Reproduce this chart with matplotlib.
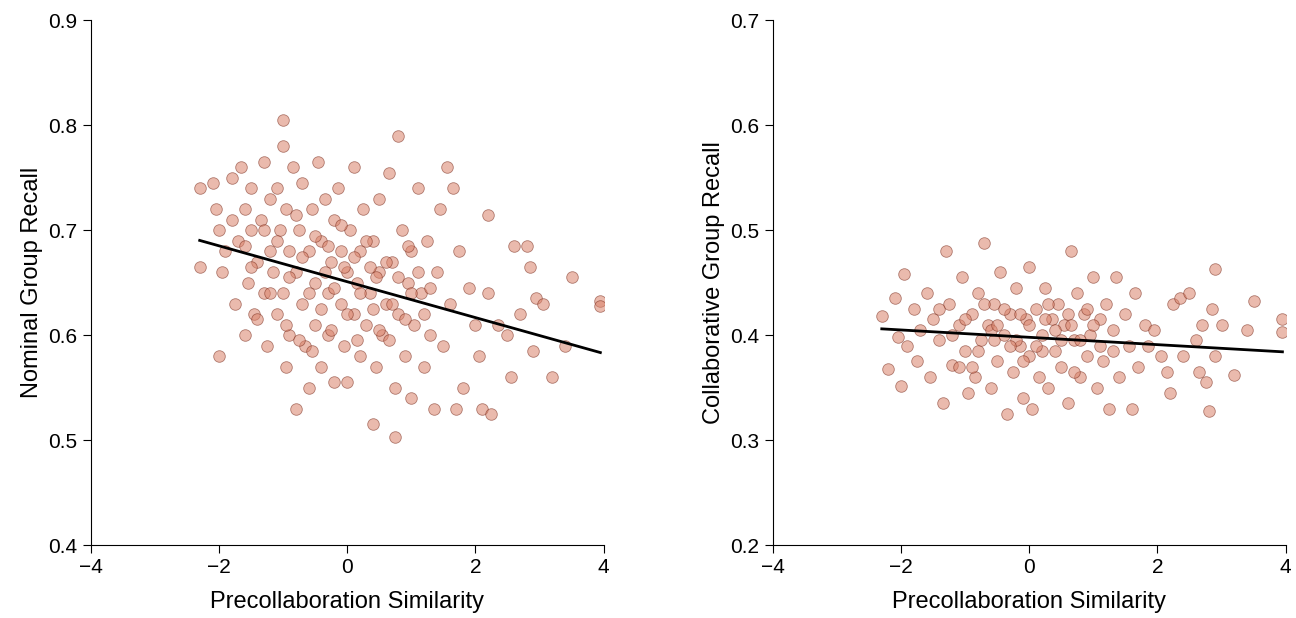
import numpy as np
import matplotlib
matplotlib.use('agg')
import matplotlib.pyplot as plt

plt.rcParams['font.family'] = ['Liberation Sans Narrow', 'Liberation Sans', 'DejaVu Sans']
plt.rcParams['font.size'] = 15

# nominal group recall (x = precollaboration similarity, y = recall)
nominal_pts = [
    (-2.3,0.74),(-2.3,0.665),(-2.1,0.745),(-2.05,0.72),(-2.0,0.58),(-2.0,0.70),(-1.95,0.66),(-1.9,0.68),
    (-1.8,0.75),(-1.8,0.71),(-1.75,0.63),(-1.7,0.69),(-1.65,0.76),(-1.6,0.72),(-1.6,0.60),(-1.55,0.65),
    (-1.5,0.70),(-1.5,0.74),(-1.45,0.62),(-1.4,0.67),(-1.35,0.71),(-1.3,0.765),(-1.3,0.64),(-1.25,0.59),
    (-1.2,0.73),(-1.2,0.68),(-1.15,0.66),(-1.1,0.62),(-1.1,0.74),(-1.05,0.70),(-1.0,0.805),(-1.0,0.78),
    (-1.0,0.64),(-0.95,0.57),(-0.95,0.72),(-0.9,0.68),(-0.9,0.60),(-0.85,0.76),(-0.8,0.53),(-0.8,0.66),
    (-0.75,0.70),(-0.7,0.63),(-0.7,0.745),(-0.65,0.59),(-0.6,0.68),(-0.6,0.55),(-0.55,0.72),(-0.5,0.65),
    (-0.5,0.61),(-0.45,0.765),(-0.4,0.69),(-0.4,0.57),(-0.35,0.73),(-0.3,0.64),(-0.3,0.60),(-0.25,0.67),
    (-0.2,0.71),(-0.2,0.555),(-0.15,0.74),(-0.1,0.63),(-0.1,0.68),(-0.05,0.59),(0.0,0.66),(0.0,0.555),
    (0.05,0.70),(0.1,0.76),(0.1,0.62),(0.15,0.65),(0.2,0.68),(0.2,0.58),(0.25,0.72),(0.3,0.61),
    (0.35,0.64),(0.4,0.515),(0.4,0.69),(0.45,0.57),(0.5,0.66),(0.5,0.73),(0.55,0.60),(0.6,0.63),
    (0.65,0.755),(0.7,0.67),(0.75,0.503),(0.75,0.55),(0.8,0.79),(0.8,0.62),(0.85,0.70),(0.9,0.58),
    (0.95,0.65),(1.0,0.68),(1.0,0.54),(1.05,0.61),(1.1,0.74),(1.15,0.64),(1.2,0.57),(1.25,0.69),
    (1.3,0.60),(1.35,0.53),(1.4,0.66),(1.45,0.72),(1.5,0.59),(1.55,0.76),(1.6,0.63),(1.65,0.74),
    (1.7,0.53),(1.75,0.68),(1.8,0.55),(1.9,0.645),(2.0,0.61),(2.05,0.58),(2.1,0.53),(2.2,0.715),
    (2.2,0.64),(2.25,0.525),(2.35,0.61),(2.5,0.60),(2.55,0.56),(2.6,0.685),(2.7,0.62),(2.8,0.685),
    (2.85,0.665),(2.9,0.585),(2.95,0.635),(3.05,0.63),(3.2,0.56),(3.4,0.59),(3.5,0.655),(3.95,0.633),
    (3.95,0.628),
    (-1.3,0.70),(-1.2,0.64),(-1.1,0.69),(-0.9,0.655),(-0.8,0.715),(-0.7,0.675),(-0.6,0.64),(-0.5,0.695),
    (-0.4,0.625),(-0.3,0.685),(-0.2,0.645),(-0.1,0.705),(0.0,0.62),(0.1,0.675),(0.2,0.64),(0.3,0.69),
    (0.4,0.625),(0.5,0.605),(0.6,0.67),(0.7,0.63),(0.8,0.655),(0.9,0.615),(1.0,0.64),(1.1,0.66),
    (1.2,0.62),(1.3,0.645),(-1.5,0.665),(-1.4,0.615),(-0.95,0.61),(-0.55,0.585),(-0.25,0.605),(0.15,0.595),
    (0.45,0.655),(-0.75,0.595),(-1.6,0.685),(-0.35,0.66),(0.35,0.665),(0.65,0.595),(-0.05,0.665),(0.95,0.685),
]

collab_pts = [
    (-2.3,0.418),(-2.2,0.368),(-2.1,0.435),(-2.05,0.398),(-2.0,0.352),(-1.95,0.458),(-1.9,0.39),(-1.8,0.425),
    (-1.75,0.375),(-1.7,0.405),(-1.6,0.44),(-1.55,0.36),(-1.5,0.415),(-1.4,0.395),(-1.35,0.335),(-1.3,0.48),
    (-1.25,0.43),(-1.2,0.372),(-1.1,0.41),(-1.05,0.455),(-1.0,0.385),(-0.95,0.345),(-0.9,0.42),(-0.85,0.36),
    (-0.8,0.44),(-0.75,0.395),(-0.7,0.488),(-0.65,0.41),(-0.6,0.35),(-0.55,0.43),(-0.5,0.375),(-0.45,0.46),
    (-0.4,0.40),(-0.35,0.325),(-0.3,0.42),(-0.25,0.365),(-0.2,0.445),(-0.15,0.39),(-0.1,0.34),(-0.05,0.415),
    (0.0,0.465),(0.0,0.38),(0.05,0.33),(0.1,0.425),(0.15,0.36),(0.2,0.40),(0.25,0.445),(0.3,0.35),
    (0.35,0.415),(0.4,0.385),(0.45,0.43),(0.5,0.37),(0.55,0.41),(0.6,0.335),(0.65,0.48),(0.7,0.395),
    (0.75,0.44),(0.8,0.36),(0.85,0.42),(0.9,0.38),(0.95,0.40),(1.0,0.455),(1.05,0.35),(1.1,0.415),
    (1.15,0.375),(1.2,0.43),(1.25,0.33),(1.3,0.405),(1.35,0.455),(1.4,0.36),(1.5,0.42),(1.55,0.39),
    (1.6,0.33),(1.65,0.44),(1.7,0.37),(1.8,0.41),(1.85,0.39),(1.95,0.405),(2.05,0.38),(2.15,0.365),
    (2.2,0.345),(2.25,0.43),(2.35,0.435),(2.4,0.38),(2.5,0.44),(2.6,0.395),(2.65,0.365),(2.7,0.41),
    (2.75,0.355),(2.8,0.328),(2.85,0.425),(2.9,0.463),(2.9,0.38),(3.0,0.41),(3.2,0.362),(3.4,0.405),
    (3.5,0.433),(3.95,0.415),(3.95,0.403),
    (-1.2,0.40),(-1.0,0.415),(-0.8,0.385),(-0.6,0.405),(-0.4,0.425),(-0.2,0.395),(0.0,0.41),(0.2,0.385),
    (0.4,0.405),(0.6,0.42),(0.8,0.395),(1.0,0.41),(-0.9,0.37),(-0.5,0.41),(-0.1,0.375),(0.3,0.43),
    (0.7,0.365),(1.1,0.39),(-1.4,0.425),(-0.3,0.39),(0.5,0.395),(-0.7,0.43),(0.1,0.39),(0.9,0.425),
    (1.3,0.385),(-1.1,0.37),(0.65,0.41),(-0.55,0.395),(0.25,0.415),(-0.15,0.42),
]

# regression lines: (intercept, slope)
nominal_fit = (0.651, -0.0171)
collab_fit = (0.398, -0.0035)

panels = [
    (nominal_pts, nominal_fit, 'Nominal Group Recall', (0.4, 0.9)),
    (collab_pts, collab_fit, 'Collaborative Group Recall', (0.2, 0.7)),
]

fig, axes = plt.subplots(1, 2, figsize=(12.96, 6.18), dpi=100)
for ax, (pts, fit, ylabel, ylim) in zip(axes, panels):
    arr = np.array(pts)
    ax.scatter(arr[:, 0], arr[:, 1], s=70, facecolor='#d9826a', edgecolor='#7a2a1a',
               linewidth=0.6, alpha=0.55, zorder=2)
    xs = np.array([arr[:, 0].min(), arr[:, 0].max()])
    ax.plot(xs, fit[0] + fit[1] * xs, color='black', lw=2, zorder=3)
    ax.set_xlim(-4, 4)
    ax.set_ylim(*ylim)
    ax.set_xticks([-4, -2, 0, 2, 4])
    ax.set_xticklabels(['\u22124', '\u22122', '0', '2', '4'])
    ax.set_yticks(np.arange(ylim[0], ylim[1] + 0.001, 0.1))
    ax.yaxis.set_major_formatter(matplotlib.ticker.FormatStrFormatter('%.1f'))
    ax.spines['top'].set_visible(False)
    ax.spines['right'].set_visible(False)
    ax.tick_params(direction='out', length=6)
    ax.set_xlabel('Precollaboration Similarity', fontsize=17, labelpad=10)
    ax.set_ylabel(ylabel, fontsize=17)

fig.subplots_adjust(left=0.07, right=0.992, top=0.967, bottom=0.118, wspace=0.33)
fig.savefig('out.png')
